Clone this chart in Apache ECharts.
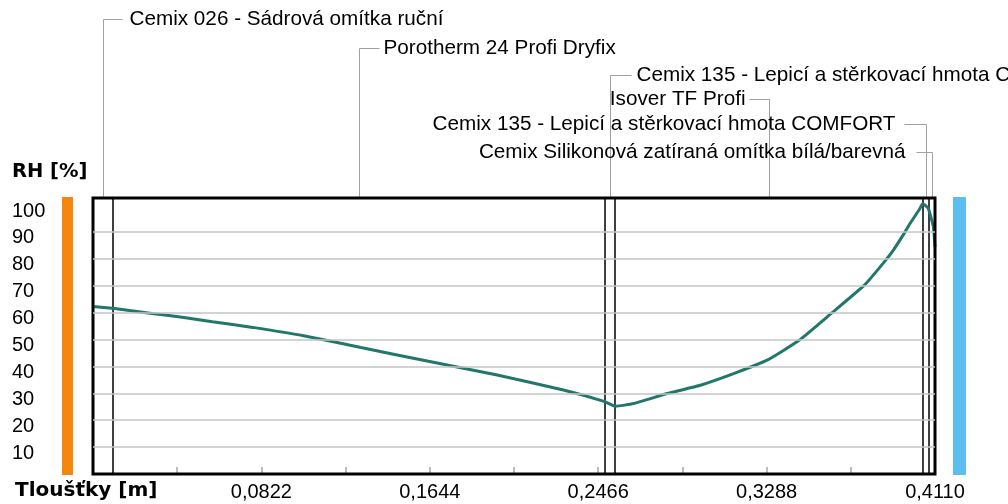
<!DOCTYPE html>
<html><head><meta charset="utf-8">
<script src="https://cdn.jsdelivr.net/npm/echarts/dist/echarts.min.js"></script>
<style>html,body{margin:0;padding:0;background:#fff}#c{width:1008px;height:504px}</style>
</head><body><div id="c"></div>
<script>
// ---- data ----
const layerNames = [
  'Cemix 026 - Sádrová omítka ruční',
  'Porotherm 24 Profi Dryfix',
  'Cemix 135 - Lepicí a stěrkovací hmota COMFORT',
  'Isover TF Profi',
  'Cemix 135 - Lepicí a stěrkovací hmota COMFORT',
  'Cemix Silikonová zatíraná omítka bílá/barevná'
];
const layerThickness = [0.01, 0.24, 0.005, 0.15, 0.003, 0.003];
const positionM = [0, 0.0105, 0.0287, 0.0435, 0.0583, 0.078, 0.1028, 0.1308, 0.1637, 0.1967,
  0.2296, 0.2494, 0.2551, 0.2639, 0.2802, 0.2965, 0.3127, 0.329, 0.3445, 0.3605,
  0.3768, 0.3875, 0.3907, 0.3964, 0.3988, 0.4035, 0.405, 0.4077, 0.4102, 0.411];
const rhValues = [62.3, 61.5, 59.7, 58.3, 56.6, 54.5, 51.4, 47.0, 41.9, 36.9,
  31.2, 27.0, 25.2, 26.2, 29.9, 33.0, 37.3, 42.3, 49.6, 59.8,
  70.4, 80.0, 83.2, 90.0, 93.1, 98.5, 100.6, 98.7, 91.9, 84.4];
const xTickLabels = ['0,0822', '0,1644', '0,2466', '0,3288', '0,4110'];
const yTickLabels = ['10', '20', '30', '40', '50', '60', '70', '80', '90', '100'];
const gridValues = [10, 20, 30, 40, 50, 60, 70, 80, 90];

// ---- layout / style (not data) ----
const labelLayout = [
  {y: 19, align: 'left', line: 19, gap: 26},
  {y: 48, align: 'left', line: 20, gap: 24},
  {y: 75, align: 'left', line: 21, gap: 26},
  {y: 99, align: 'right', line: 20, gap: 24},
  {y: 124, align: 'right', line: 22, gap: 31},
  {y: 152, align: 'right', line: 16, gap: 27}
];
const FONT = "'Liberation Sans', Arial, sans-serif";
const BOLD = "'DejaVu Sans', sans-serif";

// cumulative boundaries and midpoints
const bounds = [];
const mids = [];
let acc = 0;
layerThickness.forEach(t => { mids.push(acc + t / 2); acc = Math.round((acc + t) * 1e6) / 1e6; bounds.push(acc); });
const xMax = 0.411;
const innerBounds = bounds.slice(0, -1);

const chart = echarts.init(document.getElementById('c'));
chart.setOption({
  animation: false,
  backgroundColor: '#fff',
  grid: {left: 93, right: 73, top: 198, bottom: 30, show: true, borderColor: '#000', borderWidth: 3, z: 5, backgroundColor: 'transparent'},
  xAxis: {
    type: 'value', min: 0, max: xMax, interval: 0.0411,
    axisLine: {show: false},
    axisTick: {show: true, inside: true, length: 7, lineStyle: {color: '#a8a8a8', width: 1.5}},
    splitLine: {show: false},
    axisLabel: {
      margin: 8, color: '#000', fontFamily: FONT, fontSize: 20,
      formatter: v => { const s = v.toFixed(4).replace('.', ','); return xTickLabels.includes(s) ? s : ''; }
    }
  },
  yAxis: {
    type: 'value', min: 0, max: 102.6, interval: 10,
    axisLine: {show: false}, axisTick: {show: false}, splitLine: {show: false},
    axisLabel: {
      align: 'left', margin: 81, color: '#000', fontFamily: FONT, fontSize: 20,
      verticalAlign: 'top', lineHeight: 12,
      formatter: v => { const r = Math.round(v); const s = String(r); return (Math.abs(v - r) < 1e-6 && yTickLabels.includes(s)) ? s : ''; }
    }
  },
  series: [
    {
      type: 'line', data: [], z: 1, silent: true,
      markLine: {silent: true, symbol: 'none', label: {show: false}, animation: false,
        lineStyle: {color: '#c4c4c4', width: 1.5, type: 'solid'},
        data: gridValues.map(v => ({yAxis: v}))}
    },
    {
      type: 'line', z: 3, showSymbol: false, smooth: 0.15,
      data: positionM.map((x, i) => [x, rhValues[i]]),
      lineStyle: {color: '#21776a', width: 3}
    }
  ]
});

const yTop = chart.convertToPixel({yAxisIndex: 0}, 102.6);
const yBottom = chart.convertToPixel({yAxisIndex: 0}, 0);
const graphics = [];
// layer boundary lines
innerBounds.forEach(b => {
  const bx = Math.round(chart.convertToPixel({xAxisIndex: 0}, b));
  graphics.push({type: 'line', silent: true, z: 2, shape: {x1: bx, y1: yTop, x2: bx, y2: yBottom}, style: {stroke: '#000', lineWidth: 1.5}});
});
layerNames.forEach((name, i) => {
  const L = labelLayout[i];
  const cx = Math.round(chart.convertToPixel({xAxisIndex: 0}, mids[i])) + 0.5;
  const y = L.y + 0.5;
  graphics.push({type: 'line', silent: true, shape: {x1: cx, y1: y, x2: cx, y2: yTop}, style: {stroke: '#a0a0a0', lineWidth: 1}});
  const hx = L.align === 'left' ? cx + L.line : cx - L.line;
  graphics.push({type: 'line', silent: true, shape: {x1: cx, y1: y, x2: hx, y2: y}, style: {stroke: '#a0a0a0', lineWidth: 1}});
  const tx = L.align === 'left' ? cx + L.gap : cx - L.gap;
  graphics.push({type: 'text', silent: true, x: tx, y: L.y, style: {text: name, fill: '#000', font: '20.7px ' + FONT, align: L.align, verticalAlign: 'middle'}});
});
graphics.push({type: 'rect', silent: true, shape: {x: 62, y: yTop - 1, width: 11, height: yBottom - yTop + 2}, style: {fill: '#f5870c'}});
graphics.push({type: 'rect', silent: true, shape: {x: 953, y: yTop - 1, width: 13, height: yBottom - yTop + 2}, style: {fill: '#5bbdf0'}});
graphics.push({type: 'text', silent: true, x: 12, y: 172, style: {text: 'RH [%]', fill: '#000', font: 'bold 19.5px ' + BOLD, align: 'left', verticalAlign: 'middle'}});
graphics.push({type: 'text', silent: true, x: 15, y: 491, style: {text: 'Tloušťky [m]', fill: '#000', font: 'bold 20px ' + BOLD, align: 'left', verticalAlign: 'middle'}});
chart.setOption({graphic: graphics});
</script>
</body></html>
